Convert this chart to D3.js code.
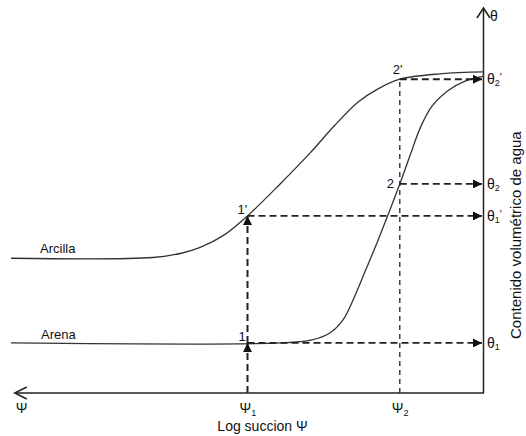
<!DOCTYPE html>
<html>
<head>
<meta charset="utf-8">
<script src="https://cdn.jsdelivr.net/npm/d3@7"></script>
<style>
html,body{margin:0;padding:0;background:#fff;}
svg{display:block;}
text{font-family:"Liberation Sans",Arial,sans-serif;fill:#111;}
</style>
</head>
<body>
<svg id="chart" width="526" height="436"></svg>
<script>
// ---- data (log suction Ψ, volumetric water content θ, arbitrary units) ----
const arcillaPsi   = [100, 70, 64, 60, 55, 50, 43.1, 36.8, 31.5, 26.6, 22.4, 17.8, 9.3, 0];
const arcillaTheta = [35, 35.2, 36.3, 37.8, 41, 46, 54.3, 62.3, 69.6, 75.6, 79, 81.5, 82.9, 83.4];
const arenaPsi     = [100, 43, 36.4, 32.6, 29.8, 27.7, 25.2, 22.4, 17.8, 15.6, 13.5, 11, 7.8, 4, 0];
const arenaTheta   = [13, 13, 13.8, 15.6, 19, 24.1, 31.4, 39.7, 54.3, 61.8, 68.8, 74.5, 78.4, 81, 82.3];
const psiLevels    = [50, 17.8];              // Ψ1, Ψ2
const psiSubs      = ["1", "2"];
const thetaLevels  = [13, 46, 54.3, 81.5];    // θ1, θ1', θ2, θ2'
const thetaSubs    = ["1", "1", "2", "2"];
const thetaPrimes  = ["", "'", "", "'"];
const seriesNames  = ["Arcilla", "Arena"];

const svg = d3.select("#chart");
const x = d3.scaleLinear().domain([0, 100]).range([484, 11]);
const y = d3.scaleLinear().domain([0, 100]).range([393, 8]);

// arrow marker
const defs = svg.append("defs");
defs.append("marker").attr("id","tri").attr("viewBox","0 0 10 10")
  .attr("refX",10).attr("refY",5).attr("markerWidth",10).attr("markerHeight",9)
  .attr("markerUnits","userSpaceOnUse").attr("orient","auto")
  .append("path").attr("d","M0,0L10,5L0,10Z").attr("fill","#111");

// axes
const ax = svg.append("g").attr("stroke","#222").attr("stroke-width",1.5).attr("fill","none");
ax.append("path").attr("d", `M${x(0)},${y(0)}H${x(99.2)}`);
ax.append("path").attr("d", `M${x(99.2)+12},${y(0)-6}L${x(99.2)},${y(0)}L${x(99.2)+12},${y(0)+6}`);
ax.append("path").attr("d", `M${x(0)-0.5},${y(0)}V${y(100)}`);
ax.append("path").attr("d", `M${x(0)-7},${y(100)+10}L${x(0)-0.5},${y(100)}L${x(0)+6},${y(100)+10}`);

// curves
const line = d3.line().x(d=>x(d[0])).y(d=>y(d[1])).curve(d3.curveCatmullRom.alpha(0.5));
const arc = arcillaPsi.map((p,i)=>[p, arcillaTheta[i]]);
const are = arenaPsi.map((p,i)=>[p, arenaTheta[i]]);
svg.append("path").attr("d", line(arc)).attr("fill","none").attr("stroke","#333").attr("stroke-width",1.3);
svg.append("path").attr("d", line(are)).attr("fill","none").attr("stroke","#333").attr("stroke-width",1.3);

// dashed guides
const g = svg.append("g").attr("fill","none").attr("stroke","#222");
g.append("line").attr("x1",x(psiLevels[0])).attr("x2",x(psiLevels[0]))
  .attr("y1",y(0)).attr("y2",y(thetaLevels[0])).attr("stroke-width",2).attr("stroke-dasharray","7,4")
  .attr("marker-end","url(#tri)");
g.append("line").attr("x1",x(psiLevels[0])).attr("x2",x(psiLevels[0]))
  .attr("y1",y(thetaLevels[0])).attr("y2",y(thetaLevels[1])).attr("stroke-width",2).attr("stroke-dasharray","7,4")
  .attr("marker-end","url(#tri)");
g.append("line").attr("x1",x(psiLevels[1])).attr("x2",x(psiLevels[1]))
  .attr("y1",y(0)).attr("y2",y(thetaLevels[3])).attr("stroke-width",1.3).attr("stroke-dasharray","5,4");
const hStart = [psiLevels[0], psiLevels[0], psiLevels[1], psiLevels[1]];
thetaLevels.forEach((t,i)=>{
  g.append("line").attr("x1",x(hStart[i])).attr("x2",x(0)-2)
    .attr("y1",y(t)).attr("y2",y(t)).attr("stroke-width",1.8).attr("stroke-dasharray","7,4")
    .attr("marker-end","url(#tri)");
});

// labels
const fs = 13;
svg.append("text").attr("x",x(100)+29).attr("y",y(arcillaTheta[0])-5).attr("font-size",fs).text(seriesNames[0]);
svg.append("text").attr("x",x(100)+30).attr("y",y(arenaTheta[0])-4).attr("font-size",fs).text(seriesNames[1]);
const pt = [
  {t:"1'", psi:psiLevels[0], th:thetaLevels[1], dx:-10, dy:-2},
  {t:"1",  psi:psiLevels[0], th:thetaLevels[0], dx:-9, dy:-2},
  {t:"2",  psi:psiLevels[1], th:thetaLevels[2], dx:-13, dy:4},
  {t:"2'", psi:psiLevels[1], th:thetaLevels[3], dx:-7, dy:-5}
];
pt.forEach(p=>svg.append("text").attr("x",x(p.psi)+p.dx).attr("y",y(p.th)+p.dy).attr("font-size",fs).text(p.t));
thetaLevels.forEach((t,i)=>{
  const tx = svg.append("text").attr("x",x(0)+3).attr("y",y(t)+5).attr("font-size",14);
  tx.append("tspan").text("θ");
  tx.append("tspan").attr("font-size",9).attr("dy",2).text(thetaSubs[i]);
  if (thetaPrimes[i]) tx.append("tspan").attr("font-size",11).attr("dy",-5).text(thetaPrimes[i]);
});
svg.append("text").attr("x",x(0)+6).attr("y",y(100)+13).attr("font-size",14).text("θ");
psiLevels.forEach((p,i)=>{
  const tx = svg.append("text").attr("x",x(p)-8).attr("y",y(0)+20).attr("font-size",14);
  tx.append("tspan").text("Ψ");
  tx.append("tspan").attr("font-size",9).attr("dy",3).text(psiSubs[i]);
});
svg.append("text").attr("x",x(99.2)+1).attr("y",y(0)+20).attr("font-size",14).text("Ψ");
svg.append("text").attr("x",(x(0)+x(100))/2+15).attr("y",y(0)+38).attr("text-anchor","middle")
  .attr("font-size",14).text("Log succion Ψ");
svg.append("text").attr("transform",`translate(521,${y(41)}) rotate(-90)`).attr("text-anchor","middle")
  .attr("font-size",15).text("Contenido volumétrico de agua");
</script>
</body>
</html>
